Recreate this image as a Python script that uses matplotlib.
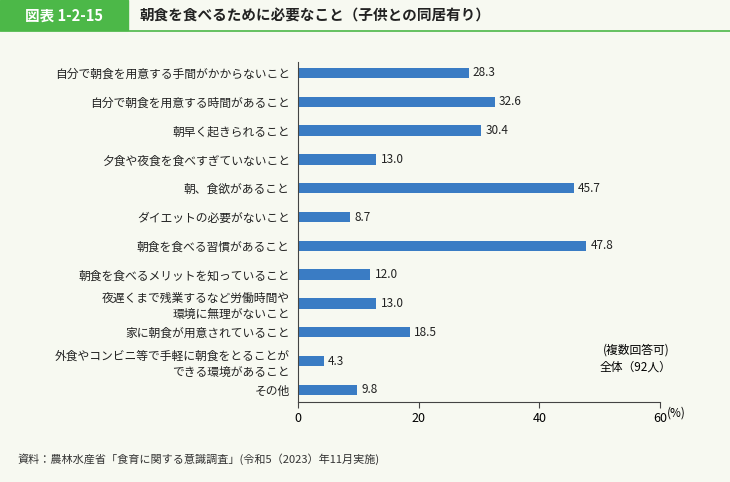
import matplotlib
matplotlib.use("Agg")
import matplotlib.pyplot as plt

plt.rcParams["font.family"] = "Noto Sans CJK JP"

categories = ["自分で朝食を用意する手間がかからないこと", "自分で朝食を用意する時間があること",
              "朝早く起きられること", "夕食や夜食を食べすぎていないこと", "朝、食欲があること",
              "ダイエットの必要がないこと", "朝食を食べる習慣があること", "朝食を食べるメリットを知っていること",
              "夜遅くまで残業するなど労働時間や\n環境に無理がないこと", "家に朝食が用意されていること",
              "外食やコンビニ等で手軽に朝食をとることが\nできる環境があること", "その他"]
values = [28.3, 32.6, 30.4, 13.0, 45.7, 8.7, 47.8, 12.0, 13.0, 18.5, 4.3, 9.8]
xticks = [0, 20, 40, 60]

bg = "#f7f9f1"
green = "#4cb848"
fig = plt.figure(figsize=(7.3, 4.82), dpi=100, facecolor=bg)

# header
fig.patches.append(plt.Rectangle((0, 1 - 30/482), 128/730, 30/482, transform=fig.transFigure, color=green))
fig.text(64/730, 1 - 16/482, "図表 1-2-15", color="white", fontsize=10.5, fontweight="bold", ha="center", va="center")
fig.text(140/730, 1 - 16/482, "朝食を食べるために必要なこと（子供との同居有り）", fontsize=10.5, fontweight="bold", va="center", color="#222")
fig.lines.append(plt.Line2D([0, 1], [1 - 31/482]*2, transform=fig.transFigure, color=green, lw=1.2))

ax = fig.add_axes([298/730, 1 - 402/482, 362/730, 340/482])
ax.set_facecolor(bg)
y = list(range(len(categories)))
ax.barh(y, values, height=0.36, color="#3a7cc4")
for yi, v in zip(y, values):
    ax.text(v + 0.7, yi, f"{v:.1f}", va="center", fontsize=8.5, color="#222")
ax.set_yticks(y)
ax.set_yticklabels(categories, fontsize=8.5, color="#222", linespacing=1.3)
ax.set_ylim(11.42, -0.38)
ax.set_xlim(0, 60)
ax.set_xticks(xticks)
ax.set_xticklabels([str(t) for t in xticks], fontsize=9)
ax.tick_params(axis="y", length=0, pad=6)
ax.tick_params(axis="x", length=4, color="#444")
for s in ["top", "right"]:
    ax.spines[s].set_visible(False)
ax.spines["left"].set_color("#444")
ax.spines["bottom"].set_color("#444")
fig.text(667/730, 1 - 413/482, "(%)", fontsize=8.5, va="center", ha="left")
ax.text(56, 9.9, "(複数回答可)\n全体（92人）", fontsize=8.5, ha="center", va="center", linespacing=1.4)

fig.text(18/730, 1 - 459/482, "資料：農林水産省「食育に関する意識調査」(令和5（2023）年11月実施)", fontsize=8, va="center", color="#333")
fig.savefig("out.png", dpi=100, facecolor=bg)
